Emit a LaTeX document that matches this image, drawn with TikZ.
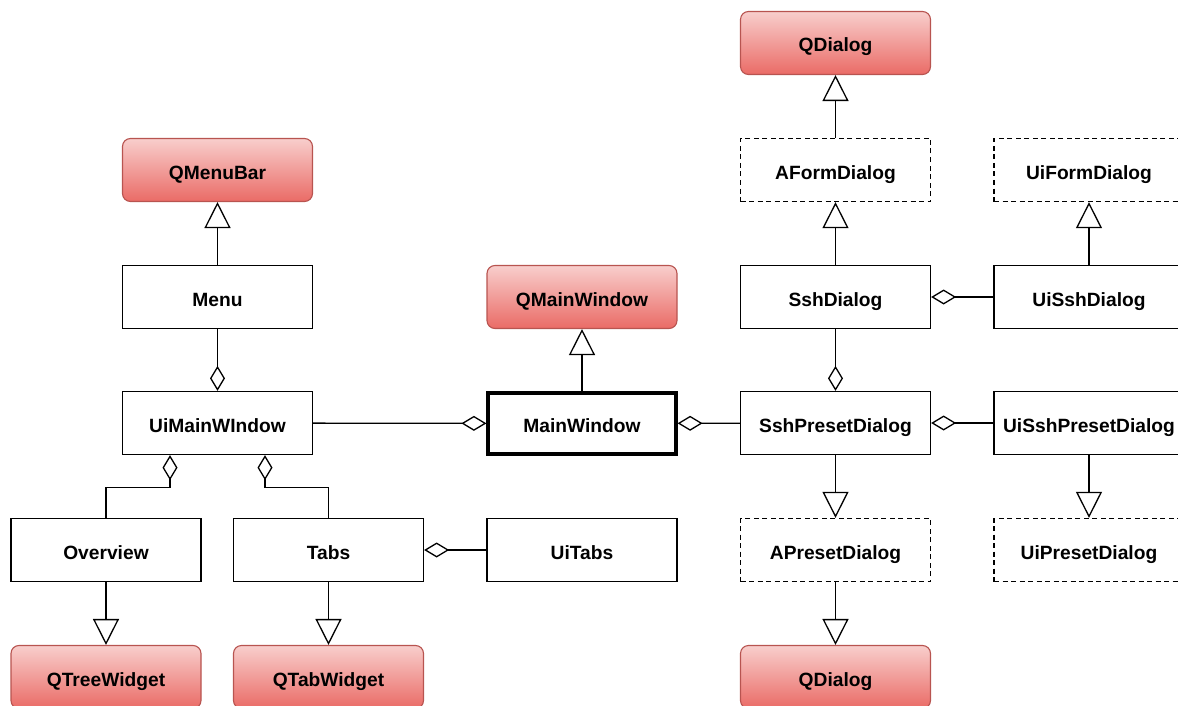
\documentclass[tikz,border=0pt]{standalone}
\usepackage{fontspec}
\setmainfont{Liberation Sans}
\usetikzlibrary{arrows.meta}
\definecolor{qtop}{HTML}{F8CECC}
\definecolor{qbot}{HTML}{EA6B66}
\definecolor{qline}{HTML}{B85450}
\begin{document}
\begin{tikzpicture}[x=1pt,y=-1pt,
  every node/.style={font=\fontsize{19.2}{23}\selectfont\bfseries,text height=18pt,text depth=0pt},
  cls/.style={draw=black,line width=1.3pt,fill=white,minimum width=190pt,minimum height=63pt,inner sep=0pt},
  abstractcls/.style={cls,dash pattern=on 5pt off 3.5pt},
  mainclass/.style={cls,line width=3.2pt,minimum width=188pt,minimum height=61pt},
  qtcls/.style={draw=qline,line width=1.1pt,rounded corners=8pt,top color=qtop,bottom color=qbot,minimum width=190pt,minimum height=63pt,inner sep=0pt},
  inherit/.style={draw,line width=1.3pt,-{Triangle[length=26pt,width=26pt,fill=white,line width=1.3pt]}},
  agg/.style={draw,line width=1.3pt,-{Diamond[length=25pt,width=15pt,fill=white,line width=1.3pt]}}
]
\useasboundingbox (0,0) rectangle (1178,706);

% Qt base classes
\node[qtcls] (qdialogtop) at (835.5,43) {QDialog};
\node[qtcls] (qmenubar) at (217.5,170) {QMenuBar};
\node[qtcls] (qmainwindow) at (582,297) {QMainWindow};
\node[qtcls] (qtreewidget) at (106,677) {QTreeWidget};
\node[qtcls] (qtabwidget) at (328.5,677) {QTabWidget};
\node[qtcls] (qdialogbot) at (835.5,677) {QDialog};

% abstract / generated form classes
\node[abstractcls] (aformdialog) at (835.5,170) {AFormDialog};
\node[abstractcls] (uiformdialog) at (1089,170) {UiFormDialog};
\node[abstractcls] (apresetdialog) at (835.5,550) {APresetDialog};
\node[abstractcls] (uipresetdialog) at (1089,550) {UiPresetDialog};

% application classes
\node[cls] (menu) at (217.5,297) {Menu};
\node[cls] (sshdialog) at (835.5,297) {SshDialog};
\node[cls] (uisshdialog) at (1089,297) {UiSshDialog};
\node[cls] (uimainwindow) at (217.5,423) {UiMainWIndow};
\node[mainclass] (mainwindow) at (582,423.5) {MainWindow};
\node[cls] (sshpresetdialog) at (835.5,423) {SshPresetDialog};
\node[cls] (uisshpresetdialog) at (1089,423) {UiSshPresetDialog};
\node[cls] (overview) at (106,550) {Overview};
\node[cls] (tabs) at (328.5,550) {Tabs};
\node[cls] (uitabs) at (582,550) {UiTabs};

% anchor points on the bottom edge of UiMainWIndow
\coordinate (uiml) at ([xshift=-47.5pt]uimainwindow.south);
\coordinate (uimr) at ([xshift=47.5pt]uimainwindow.south);

% inheritance
\draw[inherit] (menu) -- (qmenubar);
\draw[inherit] (mainwindow) -- (qmainwindow);
\draw[inherit] (aformdialog) -- (qdialogtop);
\draw[inherit] (sshdialog) -- (aformdialog);
\draw[inherit] (uisshdialog) -- (uiformdialog);
\draw[inherit] (overview) -- (qtreewidget);
\draw[inherit] (tabs) -- (qtabwidget);
\draw[inherit] (sshpresetdialog) -- (apresetdialog);
\draw[inherit] (apresetdialog) -- (qdialogbot);
\draw[inherit] (uisshpresetdialog) -- (uipresetdialog);

% aggregation
\draw[agg] (menu) -- (uimainwindow);
\draw[agg] (uimainwindow) -- (mainwindow);
\draw[agg] (sshpresetdialog) -- (mainwindow);
\draw[agg] (uisshdialog) -- (sshdialog);
\draw[agg] (sshdialog) -- (sshpresetdialog);
\draw[agg] (uisshpresetdialog) -- (sshpresetdialog);
\draw[agg] (uitabs) -- (tabs);
\draw[agg] (overview.north) |- ([yshift=-32pt]uiml) -- (uiml);
\draw[agg] (tabs.north) |- ([yshift=-32pt]uimr) -- (uimr);
\end{tikzpicture}
\end{document}
